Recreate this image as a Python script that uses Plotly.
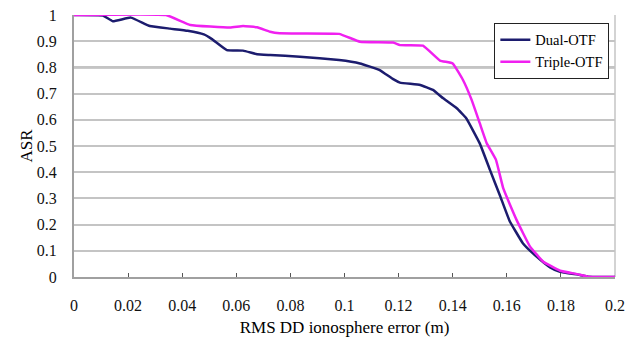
import plotly.graph_objects as go

dual_x = [0, 0.0107, 0.0144, 0.021, 0.028, 0.0355, 0.042, 0.048, 0.051, 0.0565, 0.0625,
          0.0677, 0.0725, 0.0835, 0.098, 0.1057, 0.113, 0.118, 0.1205, 0.128, 0.1327,
          0.1365, 0.1415, 0.145, 0.150, 0.1538, 0.1575, 0.161, 0.166, 0.171, 0.176,
          0.1797, 0.187, 0.19, 0.2]
dual_y = [1.0, 0.998, 0.976, 0.99, 0.958, 0.948, 0.94, 0.926, 0.908, 0.866, 0.864,
          0.85, 0.847, 0.841, 0.828, 0.815, 0.79, 0.755, 0.742, 0.733, 0.714,
          0.682, 0.644, 0.606, 0.51, 0.408, 0.31, 0.215, 0.128, 0.078, 0.037,
          0.02, 0.008, 0.001, 0.0]

triple_x = [0, 0.034, 0.043, 0.0577, 0.0625, 0.0677, 0.0725, 0.076, 0.098, 0.1057,
            0.118, 0.1205, 0.129, 0.1353, 0.140, 0.1438, 0.147, 0.150, 0.1526, 0.156,
            0.1587, 0.1636, 0.1686, 0.1735, 0.1797, 0.186, 0.19, 0.2]
triple_y = [1.0, 1.0, 0.962, 0.952, 0.958, 0.953, 0.936, 0.93, 0.928, 0.898,
            0.895, 0.885, 0.883, 0.826, 0.815, 0.752, 0.676, 0.587, 0.51, 0.447,
            0.338, 0.218, 0.116, 0.058, 0.024, 0.011, 0.001, 0.0]

x_ticks = [0, 0.02, 0.04, 0.06, 0.08, 0.1, 0.12, 0.14, 0.16, 0.18, 0.2]
x_tick_labels = ["0", "0.02", "0.04", "0.06", "0.08", "0.1", "0.12", "0.14", "0.16", "0.18", "0.2"]
y_ticks = [0, 0.1, 0.2, 0.3, 0.4, 0.5, 0.6, 0.7, 0.8, 0.9, 1]
y_tick_labels = ["0", "0.1", "0.2", "0.3", "0.4", "0.5", "0.6", "0.7", "0.8", "0.9", "1"]
dark_grid = [0.1, 0.6, 0.8, 0.9]

FAMILY = "'Liberation Serif', 'Times New Roman', Times, serif"
font = dict(family=FAMILY, size=14, color="black")
tickfont = dict(family=FAMILY, size=16, color="#111111")

fig = go.Figure()
fig.add_trace(go.Scatter(x=dual_x, y=dual_y, mode="lines", name="Dual-OTF",
                         line=dict(color="#1c1c6e", width=2.5, shape="spline", smoothing=0.3)))
fig.add_trace(go.Scatter(x=triple_x, y=triple_y, mode="lines", name="Triple-OTF",
                         line=dict(color="#f020f0", width=2.5, shape="spline", smoothing=0.3)))

for g in dark_grid:
    fig.add_shape(type="line", xref="paper", x0=0, x1=1, yref="y", y0=g, y1=g,
                  line=dict(color="#333333", width=1.5), layer="below")

fig.update_layout(
    width=633, height=347,
    margin=dict(l=74, r=18, t=15, b=70, autoexpand=False),
    paper_bgcolor="white", plot_bgcolor="white",
    font=font,
    showlegend=True,
    legend=dict(x=0.777, y=0.97, xanchor="left", yanchor="top",
                bordercolor="#222222", borderwidth=1, bgcolor="white",
                font=dict(family=FAMILY, size=14.5), tracegroupgap=0, itemwidth=30),
    xaxis=dict(range=[0, 0.2], tickvals=x_ticks, ticktext=x_tick_labels, tickfont=tickfont,
               showgrid=False, showline=True, linecolor="#a0a0a0", linewidth=2,
               ticks="inside", ticklen=4, tickcolor="#555555", ticklabelstandoff=13,
               mirror=False, zeroline=False, automargin=False,
               title=dict(text="RMS DD ionosphere error (m)", standoff=8)),
    yaxis=dict(range=[0, 1], tickvals=y_ticks, ticktext=y_tick_labels, tickfont=tickfont,
               showgrid=True, gridcolor="#c4c4c4", gridwidth=1.5,
               showline=True, linecolor="#a0a0a0", linewidth=2, zeroline=False,
               ticks="", ticklabelstandoff=12, automargin=False,
               title=dict(text="ASR", standoff=0)),
)
fig.add_shape(type="line", xref="paper", x0=1, x1=1, yref="paper", y0=0, y1=1,
              line=dict(color="#c4c4c4", width=1.5), layer="below")

fig.write_html("out.html")
